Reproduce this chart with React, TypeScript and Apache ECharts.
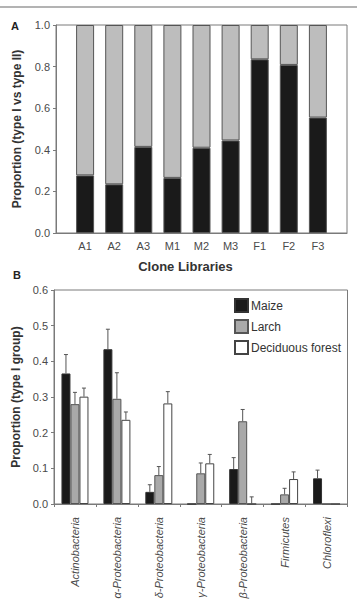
import React, { useEffect, useRef } from "react";
import * as echarts from "echarts";

// Panel A: proportion of type I vs type II sequences per clone library
const libraries = ["A1", "A2", "A3", "M1", "M2", "M3", "F1", "F2", "F3"];
const typeI = [0.277, 0.234, 0.414, 0.265, 0.41, 0.445, 0.835, 0.808, 0.555];
const typeII = [0.723, 0.766, 0.586, 0.735, 0.59, 0.555, 0.165, 0.192, 0.445];
const ticksA = [0, 0.2, 0.4, 0.6, 0.8, 1.0];

// Panel B: proportion of type I group per phylum, with upper error bars
const phyla = [
  "Actinobacteria",
  "α-Proteobacteria",
  "δ-Proteobacteria",
  "γ-Proteobacteria",
  "β-Proteobacteria",
  "Firmicutes",
  "Chloroflexi",
];
const maize = [0.366, 0.434, 0.034, 0, 0.098, 0, 0.072];
const maizeErr = [0.053, 0.056, 0.02, 0, 0.032, 0, 0.023];
const larch = [0.28, 0.295, 0.081, 0.086, 0.232, 0.027, 0];
const larchErr = [0.033, 0.073, 0.024, 0.029, 0.033, 0.017, 0];
const deciduous = [0.301, 0.236, 0.282, 0.114, 0, 0.07, 0];
const deciduousErr = [0.024, 0.022, 0.033, 0.025, 0.02, 0.02, 0];
const ticksB = [0, 0.1, 0.2, 0.3, 0.4, 0.5, 0.6];

const FONT = "'Liberation Sans', Arial, sans-serif";
const AXIS = "#7a7a7a";
const LABEL = "#4a4a4a";
const OUTLINE = "#555555";

const BAR_W = 9;

// Library axis has an empty slot at each end so the bars sit one step in from the frame
const libAxis = ["", ...libraries, ""];
const padded = (vals: number[]) => ["-", ...vals, "-"];

function errorSeries(name: string, values: number[], errs: number[], offset: number) {
  return {
    type: "custom",
    name: name + " error",
    xAxisIndex: 1,
    yAxisIndex: 1,
    silent: true,
    z: 5,
    data: values.map((v, i) => [i, v, v + errs[i], errs[i]]),
    renderItem: (params: any, api: any) => {
      if (api.value(3) <= 0) return null;
      const base = api.coord([api.value(0), api.value(1)]);
      const top = api.coord([api.value(0), api.value(2)]);
      const x = base[0] + offset;
      const style = { stroke: OUTLINE, lineWidth: 1 };
      return {
        type: "group",
        children: [
          { type: "line", shape: { x1: x, y1: base[1], x2: x, y2: top[1] }, style },
          { type: "line", shape: { x1: x - 2, y1: top[1], x2: x + 2, y2: top[1] }, style },
        ],
      };
    },
  };
}

export default function App() {
  const ref = useRef<HTMLDivElement>(null);

  useEffect(() => {
    if (!ref.current) return;
    const chart = echarts.init(ref.current, null, { renderer: "svg" });

    const option: any = {
      animation: false,
      backgroundColor: "#ffffff",
      textStyle: { fontFamily: FONT },
      legend: {
        orient: "vertical",
        left: 234,
        top: 298,
        itemWidth: 13,
        itemHeight: 13,
        itemGap: 6,
        icon: "rect",
        padding: 0,
        textStyle: { fontSize: 12, color: "#333", fontFamily: FONT, padding: [0, 0, 0, -2] },
        data: ["Maize", "Larch", "Deciduous forest"],
      },
      grid: [
        { left: 56, right: 10, top: 25, height: 208, show: true, borderColor: AXIS, borderWidth: 1 },
        { left: 54, right: 9.5, top: 290, height: 214, show: true, borderColor: AXIS, borderWidth: 1 },
      ],
      xAxis: [
        {
          gridIndex: 0,
          type: "category",
          data: libAxis,
          boundaryGap: false,
          axisLine: { lineStyle: { color: AXIS } },
          axisTick: { show: false },
          axisLabel: {
            margin: 7,
            fontSize: 11,
            color: LABEL,
            fontFamily: FONT,
            interval: 0,
          },
        },
        {
          gridIndex: 1,
          type: "category",
          data: phyla,
          axisLine: { lineStyle: { color: AXIS } },
          axisTick: { show: true, length: 3, lineStyle: { color: AXIS } },
          axisLabel: {
            rotate: 90,
            margin: 13,
            fontSize: 11,
            fontStyle: "italic",
            color: LABEL,
            fontFamily: FONT,
            interval: 0,
          },
        },
      ],
      yAxis: [
        {
          gridIndex: 0,
          type: "value",
          min: 0,
          max: ticksA[ticksA.length - 1],
          interval: 0.2,
          splitLine: { show: false },
          axisLine: { show: true, lineStyle: { color: AXIS } },
          axisTick: { show: true, length: 3, lineStyle: { color: AXIS } },
          axisLabel: { fontSize: 11, color: LABEL, margin: 6, fontFamily: FONT, formatter: (v: number) => v.toFixed(1) },
          name: "Proportion (type I vs type II)",
          nameLocation: "middle",
          nameGap: 33,
          nameTextStyle: { fontSize: 12, fontWeight: "bold", color: "#333", fontFamily: FONT },
        },
        {
          gridIndex: 1,
          type: "value",
          min: 0,
          max: ticksB[ticksB.length - 1],
          interval: 0.1,
          splitLine: { show: false },
          axisLine: { show: true, lineStyle: { color: AXIS } },
          axisTick: { show: true, length: 3, lineStyle: { color: AXIS } },
          axisLabel: { fontSize: 11, color: LABEL, margin: 6, fontFamily: FONT, formatter: (v: number) => v.toFixed(1) },
          name: "Proportion (type I group)",
          nameLocation: "middle",
          nameGap: 30,
          nameTextStyle: { fontSize: 12, fontWeight: "bold", color: "#333", fontFamily: FONT },
        },
      ],
      series: [
        {
          type: "bar",
          name: "type I",
          stack: "lib",
          xAxisIndex: 0,
          yAxisIndex: 0,
          barWidth: 18,
          data: padded(typeI),
          itemStyle: { color: "#1a1a1a", borderColor: OUTLINE, borderWidth: 1 },
        },
        {
          type: "bar",
          name: "type II",
          stack: "lib",
          xAxisIndex: 0,
          yAxisIndex: 0,
          barWidth: 18,
          data: padded(typeII),
          itemStyle: { color: "#bdbdbd", borderColor: OUTLINE, borderWidth: 1 },
        },
        {
          type: "bar",
          name: "Maize",
          xAxisIndex: 1,
          yAxisIndex: 1,
          barWidth: BAR_W,
          barGap: "0%",
          data: maize,
          itemStyle: { color: "#1a1a1a", borderColor: "#333", borderWidth: 1 },
        },
        {
          type: "bar",
          name: "Larch",
          xAxisIndex: 1,
          yAxisIndex: 1,
          barWidth: BAR_W,
          barGap: "0%",
          data: larch,
          itemStyle: { color: "#a9a9a9", borderColor: "#555", borderWidth: 1 },
        },
        {
          type: "bar",
          name: "Deciduous forest",
          xAxisIndex: 1,
          yAxisIndex: 1,
          barWidth: BAR_W,
          barGap: "0%",
          data: deciduous,
          itemStyle: { color: "#ffffff", borderColor: "#444", borderWidth: 1 },
        },
        errorSeries("Maize", maize, maizeErr, -BAR_W),
        errorSeries("Larch", larch, larchErr, 0),
        errorSeries("Deciduous forest", deciduous, deciduousErr, BAR_W),
      ],
      graphic: [
        {
          type: "line",
          shape: { x1: 0, y1: 7, x2: 357, y2: 7 },
          style: { stroke: "#9a9a9a", lineWidth: 1.5 },
        },
        {
          type: "text",
          left: 11,
          top: 20,
          style: { text: "A", font: `bold 11px ${FONT}`, fill: "#222" },
        },
        {
          type: "text",
          left: 13,
          top: 269,
          style: { text: "B", font: `bold 11px ${FONT}`, fill: "#222" },
        },
        {
          type: "text",
          x: 185.5,
          y: 266,
          style: {
            text: "Clone Libraries",
            font: `bold 13px ${FONT}`,
            fill: "#333",
            align: "center",
            verticalAlign: "middle",
          },
        },
      ],
    };

    chart.setOption(option);
    return () => chart.dispose();
  }, []);

  return (
    <div
      ref={ref}
      style={{ position: "fixed", left: 0, top: 0, width: 357, height: 605, background: "#fff" }}
    />
  );
}
